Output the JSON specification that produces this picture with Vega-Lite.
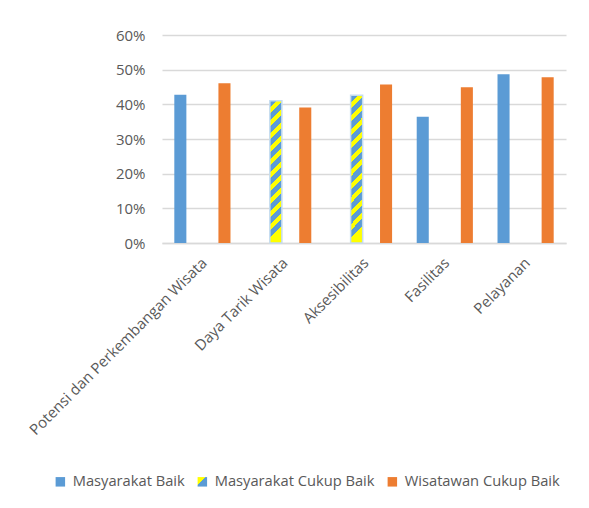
{
  "$schema": "https://vega.github.io/schema/vega-lite/v6.json",
  "autosize": {"type": "none"},
  "padding": {"left": 162, "top": 35, "right": 23, "bottom": 265},
  "width": 404,
  "height": 208,
  "background": "white",
  "config": {
    "font": "Open Sans",
    "view": {"stroke": null}
  },
  "data": {
    "values": [
      {"aspek": "Potensi dan Perkembangan Wisata", "seri": "Masyarakat Baik", "nilai": 0.428},
      {"aspek": "Potensi dan Perkembangan Wisata", "seri": "Wisatawan Cukup Baik", "nilai": 0.461},
      {"aspek": "Daya Tarik Wisata", "seri": "Masyarakat Cukup Baik", "nilai": 0.410},
      {"aspek": "Daya Tarik Wisata", "seri": "Wisatawan Cukup Baik", "nilai": 0.391},
      {"aspek": "Aksesibilitas", "seri": "Masyarakat Cukup Baik", "nilai": 0.426},
      {"aspek": "Aksesibilitas", "seri": "Wisatawan Cukup Baik", "nilai": 0.457},
      {"aspek": "Fasilitas", "seri": "Masyarakat Baik", "nilai": 0.364},
      {"aspek": "Fasilitas", "seri": "Wisatawan Cukup Baik", "nilai": 0.449},
      {"aspek": "Pelayanan", "seri": "Masyarakat Baik", "nilai": 0.487},
      {"aspek": "Pelayanan", "seri": "Wisatawan Cukup Baik", "nilai": 0.478}
    ]
  },
  "mark": {"type": "bar"},
  "encoding": {
    "x": {
      "field": "aspek",
      "type": "nominal",
      "sort": ["Potensi dan Perkembangan Wisata", "Daya Tarik Wisata", "Aksesibilitas", "Fasilitas", "Pelayanan"],
      "scale": {"paddingInner": 0.272, "paddingOuter": 0.136},
      "axis": {
        "title": null,
        "labelAngle": -45,
        "labelAlign": "right",
        "labelBaseline": "top",
        "labelPadding": 12,
        "labelOffset": -3,
        "labelFont": "Open Sans",
        "labelFontSize": 15,
        "labelColor": "#595959",
        "labelLimit": 400,
        "ticks": false,
        "domainColor": "#d9d9d9",
        "domainWidth": 1.5,
        "grid": false
      }
    },
    "xOffset": {
      "field": "seri",
      "type": "nominal",
      "scale": {
        "domain": ["Masyarakat Baik", "Masyarakat Cukup Baik", "Wisatawan Baik", "Wisatawan Cukup Baik"],
        "paddingInner": 0.18,
        "paddingOuter": 0.09
      }
    },
    "y": {
      "field": "nilai",
      "type": "quantitative",
      "scale": {"domain": [0, 0.6], "nice": false},
      "axis": {
        "title": null,
        "format": ".0%",
        "values": [0, 0.1, 0.2, 0.3, 0.4, 0.5, 0.6],
        "domain": false,
        "ticks": false,
        "labelPadding": 17,
        "labelFont": "Open Sans",
        "labelFontSize": 15,
        "labelColor": "#595959",
        "gridColor": "#d9d9d9",
        "gridWidth": 1.3
      }
    },
    "color": {
      "condition": {
        "test": "datum.seri === 'Masyarakat Cukup Baik'",
        "value": {
          "gradient": "linear",
          "x1": 0, "y1": 0, "x2": 0.085, "y2": 1,
          "stops": [
            {"offset": 0, "color": "#5b9bd5"}, {"offset": 0.05, "color": "#5b9bd5"}, {"offset": 0.05, "color": "#ffff00"}, {"offset": 0.0909, "color": "#ffff00"},
            {"offset": 0.0909, "color": "#5b9bd5"}, {"offset": 0.1409, "color": "#5b9bd5"}, {"offset": 0.1409, "color": "#ffff00"}, {"offset": 0.1818, "color": "#ffff00"},
            {"offset": 0.1818, "color": "#5b9bd5"}, {"offset": 0.2318, "color": "#5b9bd5"}, {"offset": 0.2318, "color": "#ffff00"}, {"offset": 0.2727, "color": "#ffff00"},
            {"offset": 0.2727, "color": "#5b9bd5"}, {"offset": 0.3227, "color": "#5b9bd5"}, {"offset": 0.3227, "color": "#ffff00"}, {"offset": 0.3636, "color": "#ffff00"},
            {"offset": 0.3636, "color": "#5b9bd5"}, {"offset": 0.4136, "color": "#5b9bd5"}, {"offset": 0.4136, "color": "#ffff00"}, {"offset": 0.4545, "color": "#ffff00"},
            {"offset": 0.4545, "color": "#5b9bd5"}, {"offset": 0.5045, "color": "#5b9bd5"}, {"offset": 0.5045, "color": "#ffff00"}, {"offset": 0.5455, "color": "#ffff00"},
            {"offset": 0.5455, "color": "#5b9bd5"}, {"offset": 0.5955, "color": "#5b9bd5"}, {"offset": 0.5955, "color": "#ffff00"}, {"offset": 0.6364, "color": "#ffff00"},
            {"offset": 0.6364, "color": "#5b9bd5"}, {"offset": 0.6864, "color": "#5b9bd5"}, {"offset": 0.6864, "color": "#ffff00"}, {"offset": 0.7273, "color": "#ffff00"},
            {"offset": 0.7273, "color": "#5b9bd5"}, {"offset": 0.7773, "color": "#5b9bd5"}, {"offset": 0.7773, "color": "#ffff00"}, {"offset": 0.8182, "color": "#ffff00"},
            {"offset": 0.8182, "color": "#5b9bd5"}, {"offset": 0.8682, "color": "#5b9bd5"}, {"offset": 0.8682, "color": "#ffff00"}, {"offset": 0.9091, "color": "#ffff00"},
            {"offset": 0.9091, "color": "#5b9bd5"}, {"offset": 0.9591, "color": "#5b9bd5"}, {"offset": 0.9591, "color": "#ffff00"}, {"offset": 1, "color": "#ffff00"}
          ]
        }
      },
      "field": "seri",
      "type": "nominal",
      "scale": {
        "domain": ["Masyarakat Baik", "Masyarakat Cukup Baik", "Wisatawan Cukup Baik"],
        "range": [
          "#5b9bd5",
          {"expr": "{gradient: 'linear', x1: 0, y1: 0, x2: 1, y2: 1, stops: [{offset: 0, color: '#ffff00'}, {offset: 0.42, color: '#ffff00'}, {offset: 0.42, color: '#5b9bd5'}, {offset: 1, color: '#5b9bd5'}]}"},
          "#ed7d31"
        ]
      },
      "legend": {
        "orient": "none",
        "legendX": -109,
        "legendY": 439,
        "direction": "horizontal",
        "title": null,
        "symbolType": "square",
        "symbolSize": 90,
        "symbolStrokeWidth": 0,
        "symbolOpacity": 1,
        "labelFont": "Open Sans",
        "labelFontSize": 14.7,
        "labelColor": "#595959",
        "labelOffset": 5,
        "columnPadding": 10,
        "labelLimit": 300,
        "encode": {
          "symbols": {
            "update": {
              "stroke": {"signal": "datum.value === 'Masyarakat Cukup Baik' ? '#c5dcf0' : null"},
              "strokeWidth": {"signal": "datum.value === 'Masyarakat Cukup Baik' ? 1 : 0"}
            }
          }
        }
      }
    },
    "stroke": {
      "condition": {"test": "datum.seri === 'Masyarakat Cukup Baik'", "value": "#c5dcf0"},
      "value": null
    },
    "strokeWidth": {"value": 1.5}
  }
}
